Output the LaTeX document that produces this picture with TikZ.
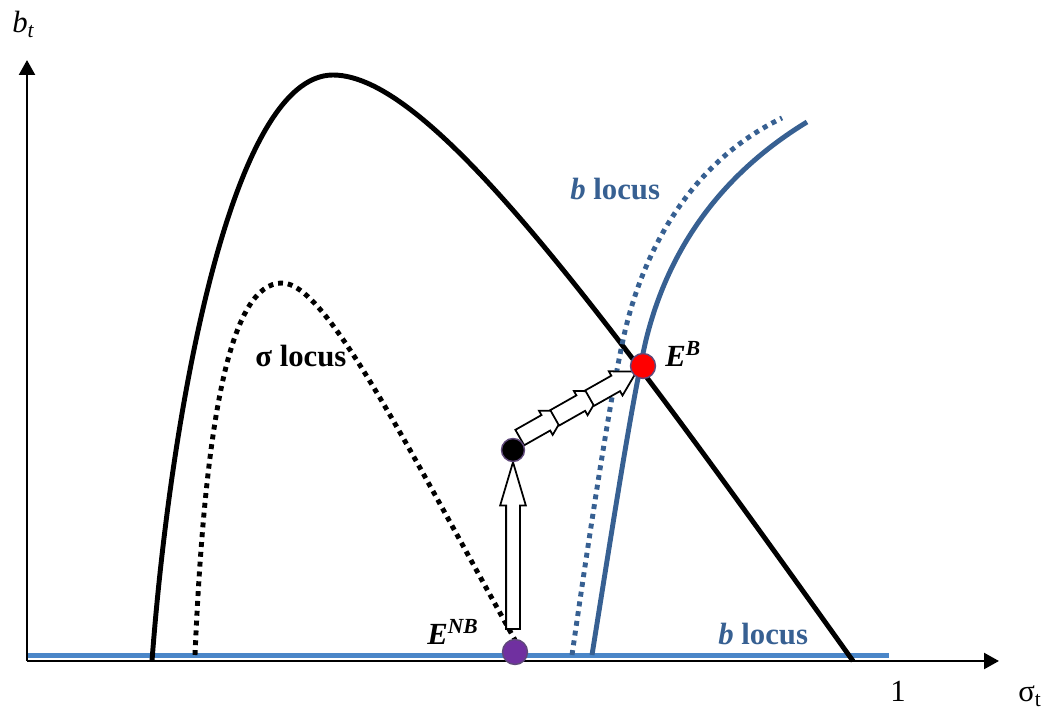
\documentclass[tikz,border=0pt]{standalone}
\usepackage{fontspec}
\setmainfont{Liberation Serif}
\usetikzlibrary{arrows.meta,shapes.arrows,calc}
\definecolor{bcurve}{HTML}{376092}
\definecolor{bline}{HTML}{4A86C8}
\definecolor{eqpurple}{HTML}{7030A0}
\definecolor{eqrim}{HTML}{5F497A}
\tikzset{
  axis/.style={line width=1.5pt,-{Triangle[length=8.5pt,width=9pt]}},
  locus/.style={line width=2.8pt},
  dotloc/.style={locus,dash pattern=on 2.8pt off 2.8pt},
  eqdot/.style={circle,draw=eqrim,line width=0.8pt,minimum size=0.5cm,inner sep=0pt},
  blockar/.style={single arrow,draw,fill=white,line width=1pt,inner xsep=0pt,anchor=tail},
  lbl/.style={font=\fontsize{17.5}{20}\selectfont,inner sep=0pt},
}

\begin{document}
\begin{tikzpicture}[x=0.02cm,y=-0.02cm]
\useasboundingbox (0,0) rectangle (1049,712);
% axes
\coordinate (o) at (27,661);
\coordinate (ytop) at (27,60);
\coordinate (xend) at (999,661);
\draw[bline,line width=2.8pt] (28,655.5) -- (889,655.5);
\draw[axis] (o) -- (ytop);
\draw[axis] (o) -- (xend);
\node[lbl,anchor=base west] (ylab) at (12,33) {\textit{b}\textsubscript{\textit{t}}};
\node[lbl,anchor=base] (one) at (898,702) {1};
\node[lbl,anchor=base west] (xlab) at (1018,702) {σ\textsubscript{t}};
% loci
\draw[locus] (152,661) .. controls (170,420) and (230,75) .. (333,75)
  .. controls (430,75) and (600,307) .. (853,661);
\draw[dotloc] (195,655) .. controls (205,420) and (230,283) .. (282,283)
  .. controls (325,283) and (400,433) .. (515,640);
\draw[dotloc,bcurve] (572,655) .. controls (590,530) and (610,400) .. (623,340)
  .. controls (640,260) and (685,165) .. (782,118);
\draw[locus,bcurve] (592,655) .. controls (612,530) and (632,400) .. (646,340)
  .. controls (668,250) and (720,175) .. (807,122);
\node[lbl,anchor=base west] (slab) at (255,367) {\textbf{σ locus}};
\node[lbl,anchor=base west,text=bcurve] (blab) at (570,200) {\textbf{\textit{b} locus}};
\node[lbl,anchor=base west,text=bcurve] (blab2) at (718,645) {\textbf{\textit{b} locus}};
% adjustment path
\node[blockar,rotate=90,minimum height=3.34cm,inner ysep=0.12cm,
  single arrow head extend=0.12cm,single arrow tip angle=33] (rise) at (513,630) {};
\coordinate (cs) at (519,438);
\coordinate (ce) at (636,372);
\foreach \t [count=\i] in {0,40,80}
  \node[blockar,rotate=29.5,minimum height=1.08cm,inner ysep=0.16cm,
    single arrow head extend=0.1cm,single arrow tip angle=60] (hop\i) at ($(cs)!\t/134!(ce)$) {};
% equilibria
\node[eqdot,fill=eqpurple] (enb) at (515,652) {};
\node[eqdot,fill=black,minimum size=0.46cm] (mid) at (513,450) {};
\node[eqdot,fill=red] (eb) at (643,366) {};
\node[lbl,anchor=base west] (eblab) at (665,367) {\textbf{\textit{E\textsuperscript{B}}}};
\node[lbl,anchor=base west] (enblab) at (427,645) {\textbf{\textit{E\textsuperscript{NB}}}};
\end{tikzpicture}
\end{document}
